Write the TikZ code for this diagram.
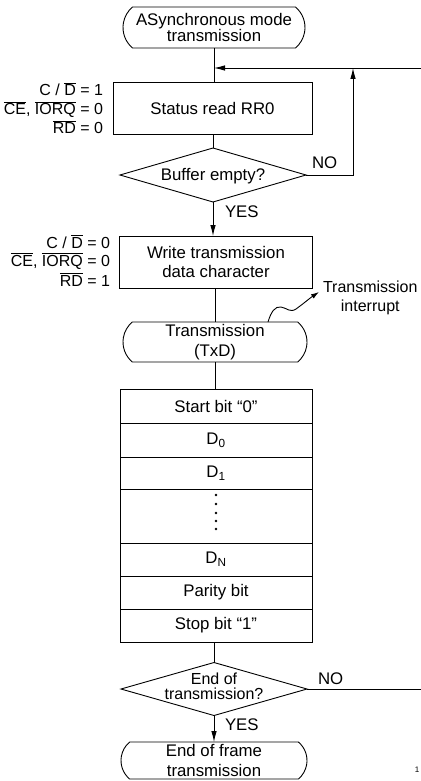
\documentclass[tikz,border=0pt]{standalone}
\usepackage{fontspec}
\setmainfont{Liberation Sans}
\usetikzlibrary{shapes.geometric,shapes.misc,arrows.meta}
\newcommand\ovl[1]{\ensuremath{\overline{\mbox{#1}}}}
\begin{document}
\begin{tikzpicture}[x=1pt,y=-1pt,
  every node/.style={font=\fontsize{16.8}{19.5}\selectfont, inner sep=0pt, outer sep=0pt},
  ln/.style={line width=0.9pt},
  arr/.style={line width=0.9pt,-{Latex[length=11pt,width=5.5pt]}},
  term/.style={draw, line width=0.9pt, rounded rectangle, rounded rectangle arc length=100, align=center},
  procbox/.style={draw, line width=0.9pt, rectangle, align=center},
  dia/.style={draw, line width=0.9pt, diamond},
  lbl/.style={anchor=base east, font=\fontsize{16}{19}\selectfont},
]
\useasboundingbox (0,0) rectangle (420,781);

% terminals and boxes
\node[term, minimum width=182pt, minimum height=41pt, font=\fontsize{16.8}{15.8}\selectfont] (start) at (214,27.5) {ASynchronous mode\\transmission};
\node[procbox, minimum width=199pt, minimum height=52pt] (status) at (212.5,108) {Status read RR0};
\node[dia, minimum width=186pt, minimum height=54pt] (buf) at (213,175) {};
\node (buft) at (213,176) {Buffer empty?};
\node[procbox, minimum width=193pt, minimum height=52pt] (write) at (216,262) {Write transmission\\data character};
\node[term, minimum width=184pt, minimum height=40pt] (tx) at (215,342) {Transmission\\(TxD)};

% bit stack
\node[procbox, minimum width=192pt, minimum height=34pt] (s0) at (216,406) {Start bit “0”};
\node[procbox, minimum width=192pt, minimum height=34pt] (d0) at (216,440) {D\textsubscript{0}};
\node[procbox, minimum width=192pt, minimum height=32pt] (d1) at (216,473) {D\textsubscript{1}};
\node[procbox, minimum width=192pt, minimum height=54pt] (dots) at (216,516) {};
\node[procbox, minimum width=192pt, minimum height=33pt] (dn) at (216,559.5) {D\textsubscript{N}};
\node[procbox, minimum width=192pt, minimum height=33pt] (par) at (216,592.5) {Parity bit};
\node[procbox, minimum width=192pt, minimum height=33pt] (stop) at (216,625.5) {Stop bit “1”};
\foreach \yy in {495,504,513,521,529} \fill (216,\yy) circle (1.4pt);

\node[dia, minimum width=186pt, minimum height=53pt] (eot) at (214,689) {};
\node[align=center, font=\fontsize{16}{15}\selectfont] (eott) at (214,686) {End of\\transmission?};
\node[term, minimum width=186pt, minimum height=37pt] (fin) at (214,760.5) {End of frame\\transmission};

% side labels
\node[lbl] (l1) at (103,96) {C / \ovl{D} = 1};
\node[lbl] (l2) at (103,115) {\ovl{CE}, \ovl{IORQ} = 0};
\node[lbl] (l3) at (103,134) {\ovl{RD} = 0};
\node[lbl] (l4) at (110,248) {C / \ovl{D} = 0};
\node[lbl] (l5) at (110,266) {\ovl{CE}, \ovl{IORQ} = 0};
\node[lbl] (l6) at (110,286) {\ovl{RD} = 1};

\node[anchor=west] (no1) at (312,163) {NO};
\node[anchor=west] (yes1) at (225,212) {YES};
\node[anchor=west] (no2) at (318,679) {NO};
\node[anchor=west] (yes2) at (225,725) {YES};
\node[anchor=west, align=center, font=\fontsize{16}{19}\selectfont] (intr) at (323,298) {Transmission\\interrupt};
\node[font=\fontsize{8}{9}\selectfont] (pg) at (417,770) {1};

% connectors
\coordinate (j) at (214,68);
\coordinate (rt) at (422,68);
\coordinate (nj) at (353,68);
\coordinate (rb) at (422,689);
\coordinate (ci) at (268,322);
\coordinate (ce) at (319,292);

\draw[ln] (start.south) -- (start.south |- status.north);
\draw[arr] (rt) -- (j);
\draw[ln] (status.south -| buf.north) -- (buf.north);
\draw[arr] (buf.east) -| (nj);
\draw[arr] (buf.south) -- (buf.south |- write.north);
\draw[ln] (write.south -| tx.north) -- (tx.north);
\draw[ln] (tx.south) -- (tx.south |- s0.north);
\draw[ln] (stop.south -| eot.north) -- (eot.north);
\draw[ln] (eot.east) -- (rb);
\draw[arr] (eot.south) -- (eot.south |- fin.north);
\draw[line width=0.9pt,-{Latex[length=8pt,width=5pt]}] (ci) .. controls (271,312) and (275,306) .. (281,307) .. controls (287,308) and (290,313) .. (296,309) .. controls (303,304) and (310,298) .. (ce);
\end{tikzpicture}
\end{document}
